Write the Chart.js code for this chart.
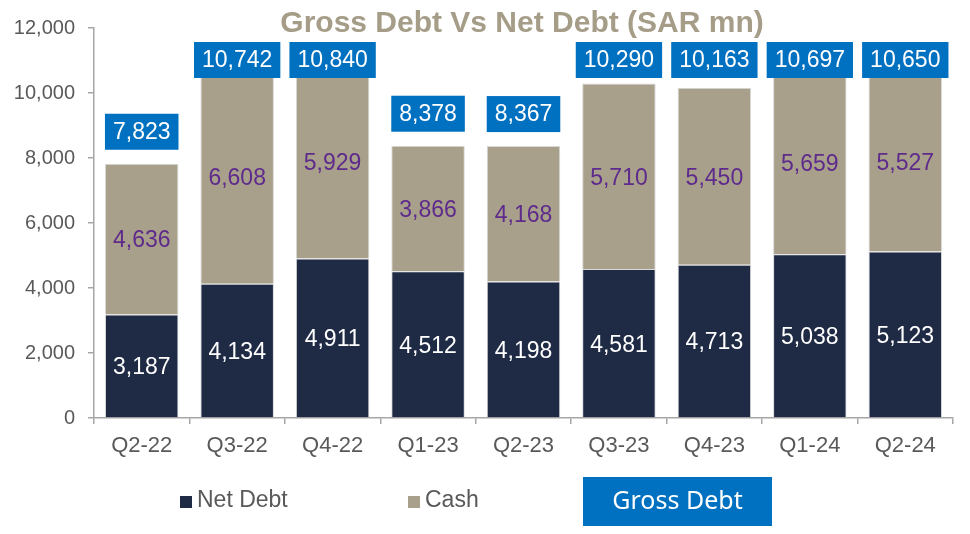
<!DOCTYPE html>
<html>
<head>
<meta charset="utf-8">
<script src="https://cdn.jsdelivr.net/npm/chart.js@4"></script>
<style>
  html, body { margin: 0; padding: 0; background: #fff; }
  #wrap { width: 970px; height: 534px; }
</style>
</head>
<body>
<div id="wrap"><canvas id="myChart" width="970" height="534"></canvas></div>
<script>
// chart data
const quarters = ['Q2-22', 'Q3-22', 'Q4-22', 'Q1-23', 'Q2-23', 'Q3-23', 'Q4-23', 'Q1-24', 'Q2-24'];
const netDebt = [3187, 4134, 4911, 4512, 4198, 4581, 4713, 5038, 5123];
const cash = [4636, 6608, 5929, 3866, 4168, 5710, 5450, 5659, 5527];
const grossDebt = [7823, 10742, 10840, 8378, 8367, 10290, 10163, 10697, 10650];
const yTicks = [0, 2000, 4000, 6000, 8000, 10000, 12000];

const navy = '#1f2a45';
const tan = '#a8a08a';
const blue = '#0070c0';
const purple = '#5e2a8c';
const axisGrey = '#a6a6a6';
const textGrey = '#595959';

const fmt = v => v.toLocaleString('en-US');

// labels inside the bars + gross debt boxes + title + legend
const labelPlugin = {
    id: 'labels',
    afterDatasetsDraw(chart) {
        const c = chart.ctx;
        c.save();
        c.font = '23px "Liberation Sans", Arial, sans-serif';
        c.textAlign = 'center';
        c.textBaseline = 'middle';

        [0, 1].forEach(di => {
            const meta = chart.getDatasetMeta(di);
            c.fillStyle = di === 0 ? '#ffffff' : purple;
            meta.data.forEach((bar, i) => {
                const y = (bar.y + bar.base) / 2;
                c.fillText(fmt(chart.data.datasets[di].data[i]), bar.x, y + 2);
            });
        });

        // gross debt boxes
        const gmeta = chart.getDatasetMeta(2);
        gmeta.data.forEach((pt, i) => {
            const txt = fmt(grossDebt[i]);
            const w = c.measureText(txt).width + 16;
            const h = 36;
            const bottom = Math.max(pt.y - 14, 78);
            c.fillStyle = blue;
            c.fillRect(pt.x - w / 2, bottom - h, w, h);
            c.fillStyle = '#ffffff';
            c.fillText(txt, pt.x, bottom - h / 2 + 1);
        });

        // title
        c.font = 'bold 30px "Liberation Sans", Arial, sans-serif';
        c.fillStyle = '#a59d88';
        c.fillText('Gross Debt Vs Net Debt (SAR mn)', 522, 24);

        // legend
        c.font = '23px "Liberation Sans", Arial, sans-serif';
        c.textAlign = 'left';
        c.fillStyle = navy;
        c.fillRect(180, 496, 12, 12);
        c.fillStyle = textGrey;
        c.fillText('Net Debt', 197, 501);
        c.fillStyle = tan;
        c.fillRect(408, 496, 12, 12);
        c.fillStyle = textGrey;
        c.fillText('Cash', 425, 501);

        c.fillStyle = blue;
        c.fillRect(583, 477, 189, 49);
        c.fillStyle = '#ffffff';
        c.textAlign = 'center';
        c.font = '25px "Noto Sans", "Open Sans", sans-serif';
        c.fillText('Gross Debt', 677.5, 502);
        c.restore();
    }
};

const ctx = document.getElementById('myChart').getContext('2d');
const myChart = new Chart(ctx, {
    type: 'bar',
    data: {
        labels: quarters,
        datasets: [{
            label: 'Net Debt',
            data: netDebt,
            backgroundColor: navy,
            borderColor: '#d9d9d9',
            borderWidth: 1,
            stack: 'debt'
        }, {
            label: 'Cash',
            data: cash,
            backgroundColor: tan,
            borderColor: '#d9d9d9',
            borderWidth: 1,
            stack: 'debt'
        }, {
            type: 'line',
            label: 'Gross Debt',
            data: grossDebt,
            showLine: false,
            pointRadius: 0,
            stack: 'gross'
        }]
    },
    options: {
        responsive: false,
        animation: false,
        layout: { padding: { top: 28, right: 17, left: 0, bottom: 0 } },
        plugins: {
            legend: { display: false },
            tooltip: { enabled: false }
        },
        datasets: {
            bar: { categoryPercentage: 1, barPercentage: 0.77 }
        },
        scales: {
            x: {
                stacked: true,
                grid: { drawOnChartArea: false, color: axisGrey, tickLength: 6, lineWidth: 1.5 },
                border: { color: axisGrey, width: 1.5 },
                ticks: { color: textGrey, padding: 9, font: { size: 22, family: '"Liberation Sans", Arial' } },
                afterFit(scale) { scale.height = 116; }
            },
            y: {
                stacked: true,
                min: 0,
                max: 12000,
                afterBuildTicks(scale) { scale.ticks = yTicks.map(v => ({ value: v })); },
                grid: { drawOnChartArea: false, color: axisGrey, tickLength: 6, lineWidth: 1.5 },
                border: { color: axisGrey, width: 1.5 },
                ticks: {
                    color: textGrey,
                    padding: 13,
                    font: { size: 20, family: '"Liberation Sans", Arial' },
                    callback: v => fmt(v)
                },
                afterFit(scale) { scale.width = 94; }
            }
        }
    },
    plugins: [labelPlugin]
});
</script>
</body>
</html>
